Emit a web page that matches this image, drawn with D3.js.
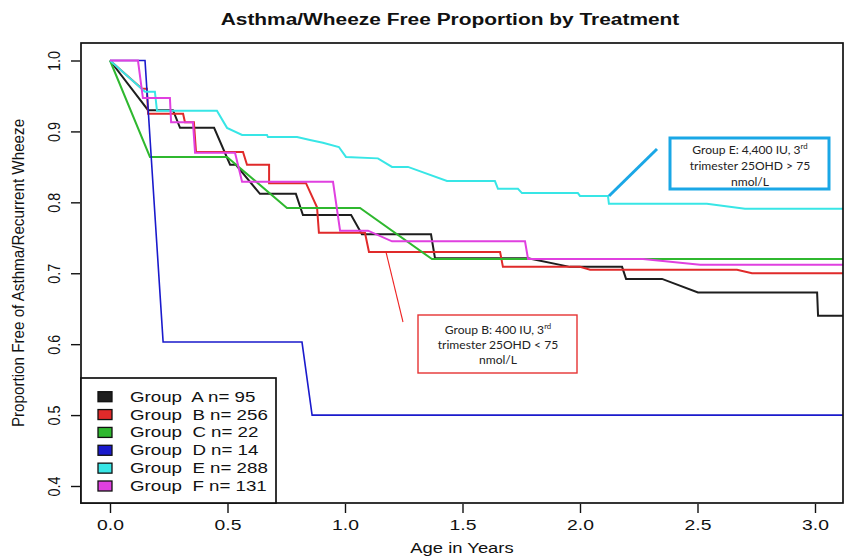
<!DOCTYPE html>
<html><head><meta charset="utf-8">
<script src="https://cdn.jsdelivr.net/npm/d3@7"></script>
<style>body{margin:0;background:#fff}svg{display:block}</style>
</head><body><svg id="c" width="846" height="557"></svg>
<script>
// ---- data ----
const groups = ["A","B","C","D","E","F"];
const groupN = [95,256,22,14,288,131];
const colors = ["#1e1e1e","#e02a2a","#2fb82f","#1a1acc","#38e6e6","#e040e0"];
const xTicks = [0.0,0.5,1.0,1.5,2.0,2.5,3.0];
const yTicks = [0.4,0.5,0.6,0.7,0.8,0.9,1.0];
const groupA = [[0,1.0],[0.162,0.930],[0.268,0.930],[0.298,0.905],[0.443,0.905],[0.511,0.853],[0.536,0.853],[0.638,0.812],[0.791,0.812],[0.821,0.782],[1.026,0.782],[1.072,0.755],[1.366,0.755],[1.383,0.721],[1.779,0.721],[1.957,0.709],[2.179,0.709],[2.196,0.692],[2.349,0.692],[2.502,0.673],[3.009,0.673],[3.013,0.640],[3.2,0.640]];
const groupB = [[0,1.0],[0.136,0.960],[0.157,0.960],[0.162,0.925],[0.311,0.925],[0.319,0.913],[0.357,0.913],[0.366,0.871],[0.566,0.871],[0.583,0.853],[0.677,0.853],[0.677,0.827],[0.834,0.827],[0.881,0.793],[0.889,0.757],[1.085,0.757],[1.102,0.730],[1.660,0.730],[1.672,0.709],[2.0,0.709],[2.043,0.705],[2.668,0.705],[2.732,0.700],[3.2,0.700]];
const groupC = [[0,1.0],[0.170,0.864],[0.498,0.864],[0.753,0.792],[1.064,0.792],[1.370,0.720],[3.2,0.720]];
const groupD = [[0,1.0],[0.149,1.0],[0.226,0.603],[0.817,0.603],[0.860,0.500],[3.2,0.500]];
const groupE = [[0,1.0],[0.149,0.956],[0.191,0.956],[0.200,0.929],[0.455,0.929],[0.498,0.905],[0.562,0.895],[0.668,0.895],[0.672,0.892],[0.796,0.892],[0.851,0.888],[0.906,0.884],[0.974,0.878],[1.004,0.864],[1.140,0.862],[1.200,0.850],[1.268,0.850],[1.434,0.830],[1.638,0.830],[1.651,0.819],[1.736,0.819],[1.753,0.813],[1.991,0.813],[2.0,0.809],[2.119,0.809],[2.123,0.798],[2.540,0.798],[2.702,0.791],[3.2,0.791]];
const groupF = [[0,1.0],[0.119,1.0],[0.140,0.947],[0.255,0.947],[0.260,0.913],[0.353,0.913],[0.362,0.870],[0.532,0.870],[0.562,0.829],[0.949,0.829],[0.979,0.760],[1.098,0.760],[1.200,0.745],[1.766,0.745],[1.779,0.720],[2.268,0.720],[2.511,0.712],[3.2,0.712]];
const series = [groupA,groupB,groupC,groupD,groupE,groupF];

const SANS = "'Liberation Sans', Arial, Helvetica, sans-serif";
const svg = d3.select("#c");
const box = {l:81, r:843, t:43, b:503};
const x = d3.scaleLinear().domain([0,3]).range([110,815]);
const y = d3.scaleLinear().domain([0.4,1.0]).range([486,60.5]);

function stretch(sel, f){
  sel.each(function(){
    const t = d3.select(this);
    const tx = +t.attr("x")||0, ty = +t.attr("y")||0;
    t.attr("x",0).attr("y",0).attr("transform",`translate(${tx},${ty}) scale(${f},1)`);
  });
}

// title
svg.append("text").attr("x",450).attr("y",25).attr("text-anchor","middle")
  .style("font-family",SANS).attr("font-weight","bold").attr("font-size",15.6).attr("fill","#111")
  .text("Asthma/Wheeze Free Proportion by Treatment").call(stretch,1.34);

svg.append("clipPath").attr("id","clip").append("rect")
  .attr("x",box.l).attr("y",box.t).attr("width",box.r-box.l).attr("height",box.b-box.t);

const line = d3.line().x(d=>x(d[0])).y(d=>y(d[1]));
const g = svg.append("g").attr("clip-path","url(#clip)");
series.forEach((s,i)=>{
  g.append("path").attr("d",line(s)).attr("fill","none").attr("stroke",colors[i])
   .attr("stroke-width", i===3?1.6:2).attr("stroke-linejoin","miter");
});

// box
svg.append("rect").attr("x",box.l).attr("y",box.t).attr("width",box.r-box.l).attr("height",box.b-box.t)
  .attr("fill","none").attr("stroke","#111").attr("stroke-width",1.7);

// axes
const xa = svg.append("g").attr("transform",`translate(0,${box.b+1})`)
  .call(d3.axisBottom(x).tickValues(xTicks).tickFormat(d3.format(".1f")).tickSize(9).tickPadding(7));
xa.select(".domain").remove();
xa.selectAll("line").attr("stroke","#111").attr("stroke-width",1.4);
xa.selectAll("text").attr("font-size",14).attr("fill","#111").style("font-family",SANS).call(stretch,1.38);

const ya = svg.append("g").attr("transform",`translate(${box.l-1},0)`)
  .call(d3.axisLeft(y).tickValues(yTicks).tickFormat(d3.format(".1f")).tickSize(9).tickPadding(0));
ya.select(".domain").remove();
ya.selectAll("line").attr("stroke","#111").attr("stroke-width",1.4);
ya.selectAll("text").attr("font-size",14.4).attr("fill","#111").style("font-family",SANS)
  .attr("text-anchor","middle").attr("x",null).attr("y",0).attr("dy","0.35em")
  .attr("transform","translate(-26,0) rotate(-90) scale(1,1.15)");

// axis labels
svg.append("text").attr("x",462).attr("y",553).attr("text-anchor","middle").attr("font-size",14.5)
  .style("font-family",SANS).attr("fill","#111").text("Age in Years").call(stretch,1.27);
svg.append("text").attr("transform","translate(24,273) rotate(-90) scale(1,1.1)").attr("text-anchor","middle")
  .style("font-family",SANS).attr("font-size",15.2).attr("fill","#111").text("Proportion Free of Asthma/Recurrent Wheeze");

// legend
const lg = svg.append("g");
lg.append("rect").attr("x",box.l).attr("y",378).attr("width",276-box.l).attr("height",box.b-378)
  .attr("fill","#fff").attr("stroke","#111").attr("stroke-width",1.7);
groups.forEach((gname,i)=>{
  const cy = 396.7 + i*17.86;
  lg.append("rect").attr("x",98).attr("y",cy-5).attr("width",14).attr("height",10)
    .attr("fill",colors[i]).attr("stroke","#111").attr("stroke-width",1.3);
  lg.append("text").attr("x",130).attr("y",cy+5).attr("font-size",14.4).attr("fill","#111")
    .style("font-family",SANS).style("white-space","pre").text(`Group  ${gname} n= ${groupN[i]}`)
    .call(stretch,1.3);
});

// annotations
const ANN = "Lato, 'Open Sans', sans-serif";
const ann = svg.append("g");
function lines(cx, y0, dy, arr){
  arr.forEach((t,i)=>{
    const tx = ann.append("text").attr("x",cx).attr("y",y0+i*dy).attr("text-anchor","middle")
      .attr("font-size",12.1).attr("fill","#222").style("font-family",ANN);
    if (Array.isArray(t)) {
      tx.append("tspan").text(t[0]);
      tx.append("tspan").attr("font-size",7.8).attr("dy",-5).text(t[1]);
    } else tx.text(t);
  });
}
ann.append("line").attr("x1",609).attr("y1",196).attr("x2",657).attr("y2",149)
  .attr("stroke","#1aa7e6").attr("stroke-width",3);
ann.append("rect").attr("x",670).attr("y",138).attr("width",159).attr("height",51)
  .attr("fill","#fff").attr("stroke","#1aa7e6").attr("stroke-width",3);
lines(750,153.5,16,[["Group E: 4,400 IU, 3","rd"],"trimester 25OHD > 75","nmol/L"]);

ann.append("line").attr("x1",386).attr("y1",252).attr("x2",403).attr("y2",322)
  .attr("stroke","#ee2222").attr("stroke-width",1.1);
ann.append("rect").attr("x",418).attr("y",315).attr("width",159).attr("height",58)
  .attr("fill","#fff").attr("stroke","#e63333").attr("stroke-width",1.4);
lines(498,333.5,15,[["Group B: 400 IU, 3","rd"],"trimester 25OHD < 75","nmol/L"]);
</script></body></html>
